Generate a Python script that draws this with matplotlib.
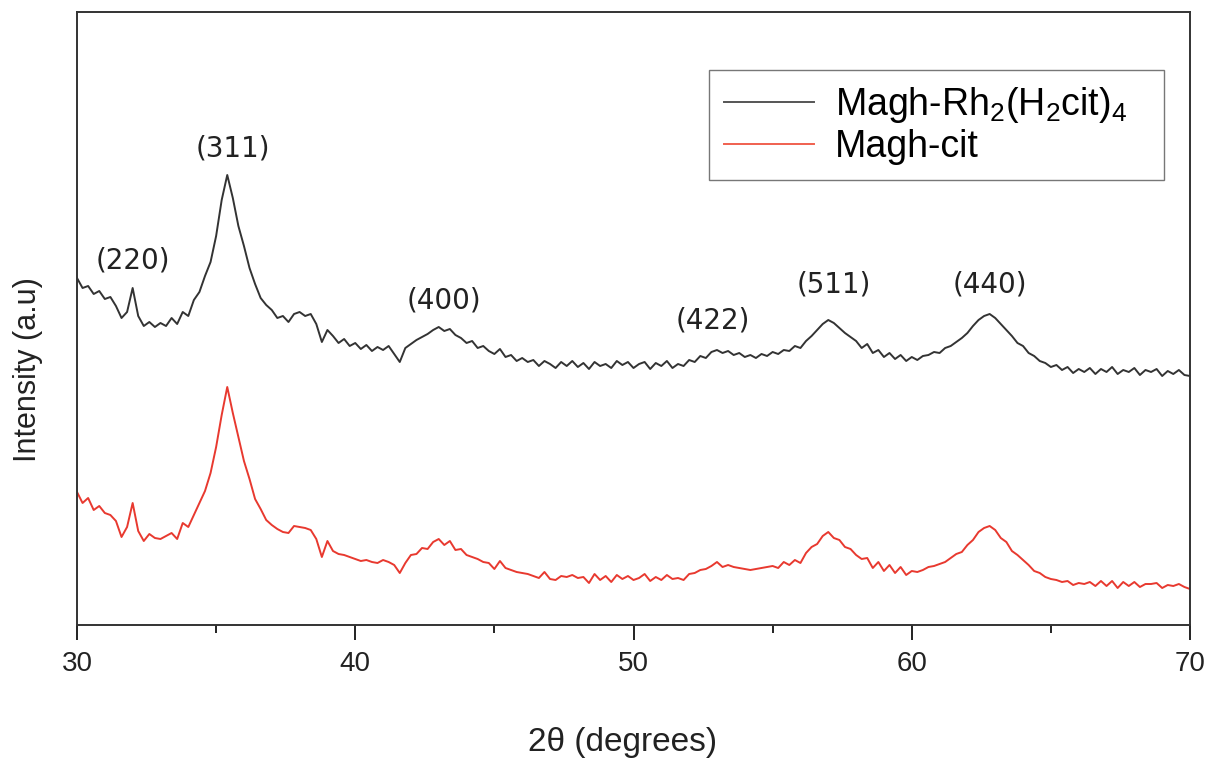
import numpy as np
import matplotlib
matplotlib.use("Agg")
import matplotlib.pyplot as plt

plt.rcParams['font.family'] = ['Liberation Sans', 'DejaVu Sans']

# scan grid, 2theta in degrees (step 0.2)
two_theta = np.round(np.arange(30.0, 70.01, 0.2), 1)

# Magh-Rh2(H2cit)4, offset upwards (a.u.)
rh_intensity = [
    347, 337, 339, 331, 334, 326, 328, 319, 307, 313,
    337, 309, 299, 303, 298, 302, 299, 307, 301, 313,
    309, 325, 333, 349, 363, 389, 425, 450, 427, 399,
    379, 357, 341, 327, 320, 315, 307, 309, 303, 311,
    313, 309, 311, 301, 283, 295, 289, 282, 286, 279,
    282, 276, 280, 274, 278, 275, 279, 271, 263, 277,
    281, 285, 288, 291, 295, 298, 294, 296, 290, 287,
    282, 284, 277, 279, 274, 271, 276, 268, 270, 264,
    267, 263, 265, 259, 264, 261, 257, 263, 259, 264,
    258, 262, 256, 263, 259, 261, 257, 264, 260, 263,
    257, 261, 263, 256, 262, 259, 264, 257, 261, 259,
    265, 263, 269, 267, 273, 275, 272, 274, 270, 272,
    268, 270, 267, 271, 269, 273, 271, 275, 274, 279,
    277, 284, 289, 295, 301, 305, 302, 297, 292, 288,
    284, 277, 281, 272, 275, 268, 272, 266, 270, 264,
    268, 265, 269, 270, 273, 272, 277, 279, 283, 287,
    292, 299, 305, 309, 311, 307, 301, 295, 289, 282,
    279, 272, 269, 264, 262, 258, 260, 255, 258, 252,
    256, 253, 257, 251, 256, 253, 258, 251, 255, 253,
    257, 250, 255, 253, 256, 249, 254, 251, 255, 250,
    249,
]

# Magh-cit (a.u.)
cit_intensity = [
    133, 122, 127, 115, 119, 112, 110, 104, 88, 98,
    122, 94, 84, 91, 87, 86, 89, 92, 86, 102,
    98, 110, 122, 134, 152, 178, 210, 238, 212, 188,
    164, 146, 126, 116, 105, 100, 96, 93, 92, 99,
    98, 97, 95, 86, 68, 84, 74, 71, 70, 68,
    66, 64, 65, 63, 62, 65, 63, 60, 52, 62,
    70, 71, 77, 76, 83, 86, 80, 84, 75, 76,
    70, 68, 66, 63, 62, 56, 64, 57, 55, 53,
    52, 51, 49, 47, 53, 46, 45, 49, 48, 50,
    47, 48, 42, 51, 45, 49, 43, 50, 46, 49,
    45, 47, 51, 44, 48, 45, 50, 46, 47, 45,
    51, 52, 55, 56, 59, 63, 58, 60, 58, 57,
    56, 55, 56, 57, 58, 59, 57, 63, 60, 65,
    62, 72, 78, 81, 89, 93, 87, 85, 78, 76,
    70, 66, 67, 57, 63, 54, 60, 52, 58, 50,
    54, 53, 55, 58, 59, 61, 63, 67, 71, 73,
    80, 85, 93, 97, 99, 95, 87, 83, 74, 70,
    65, 60, 54, 52, 48, 46, 45, 43, 44, 40,
    42, 41, 43, 39, 44, 39, 44, 37, 43, 39,
    43, 38, 41, 41, 42, 37, 40, 39, 41, 38,
    36,
]

# reflection labels and where they sit
peak_labels = ['(220)', '(311)', '(400)', '(422)', '(511)', '(440)']
peak_x = [32.0, 35.6, 43.2, 52.85, 57.2, 62.8]
peak_y = [365, 477, 325, 305, 340, 340]

fig = plt.figure(figsize=(12.24, 7.63), dpi=100)
ax = fig.add_axes([77/1224, 138/763, 1113/1224, 613/763])

ax.plot(two_theta, rh_intensity, color='#333333', lw=1.4, label='Magh-Rh$\\mathregular{_2}$(H$\\mathregular{_2}$cit)$\\mathregular{_4}$')
ax.plot(two_theta, cit_intensity, color='#e8392f', lw=1.4, label='Magh-cit')

for lab, px, py in zip(peak_labels, peak_x, peak_y):
    ax.text(px, py, lab, ha='center', va='center', fontsize=20, color='#222222', family='DejaVu Sans')

ax.set_xlim(30, 70)
ax.set_ylim(0, 613)
ax.set_xticks([30, 40, 50, 60, 70])
ax.set_xticks([35, 45, 55, 65], minor=True)
ax.set_yticks([])
ax.tick_params(axis='x', which='major', direction='out', length=11, width=1.4, labelsize=20, pad=8, colors='#222222')
ax.tick_params(axis='x', which='minor', direction='out', length=6, width=1.4, colors='#222222')
for s in ax.spines.values():
    s.set_linewidth(1.4)
    s.set_color('#333333')

ax.set_xlabel('2θ (degrees)', fontsize=24, va='center', color='#222222')
ax.xaxis.set_label_coords(0.4906, -0.191)
ax.set_ylabel('Intensity (a.u)', fontsize=22, va='center', ha='center', color='#222222')
ax.yaxis.set_label_coords(-0.044, 0.416)

leg = ax.legend(loc='upper left', bbox_to_anchor=(709/1224, 1-176/763, 455/1224, 106/763),
                bbox_transform=fig.transFigure, mode='expand', fontsize=27, frameon=True,
                fancybox=False, borderpad=0.4, labelspacing=0.1, handlelength=2.4,
                handletextpad=0.55, borderaxespad=0)
leg.get_frame().set_edgecolor('#555555')
leg.get_frame().set_linewidth(1.0)
leg.get_lines()[0].set_color('#555555')
leg.get_lines()[1].set_color('#f0604f')

fig.savefig('out.png', dpi=100)
